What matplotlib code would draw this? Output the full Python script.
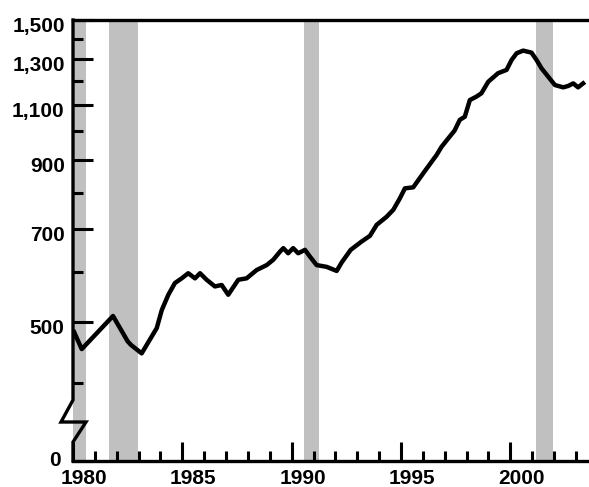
import matplotlib
matplotlib.use("Agg")
import matplotlib.pyplot as plt
import matplotlib.transforms as mtransforms
import numpy as np

# ---- Data ------------------------------------------------------------------
years = [
    1980.05, 1980.40, 1981.83, 1982.50, 1982.65, 1983.14, 1983.83, 1984.06,
    1984.36, 1984.66, 1984.97, 1985.27, 1985.58, 1985.81, 1986.11, 1986.49,
    1986.80, 1987.10, 1987.25, 1987.56, 1987.94, 1988.40, 1988.86, 1989.16,
    1989.47, 1989.62, 1989.84, 1990.07, 1990.30, 1990.61, 1990.84, 1991.14,
    1991.60, 1992.06, 1992.29, 1992.70, 1993.20, 1993.58, 1993.89, 1994.34,
    1994.65, 1994.95, 1995.18, 1995.56, 1996.02, 1996.63, 1996.85, 1997.09,
    1997.45, 1997.69, 1997.92, 1998.15, 1998.45, 1998.68, 1998.99, 1999.44,
    1999.83, 2000.06, 2000.29, 2000.59, 2000.97, 2001.20, 2001.43, 2001.73,
    2002.04, 2002.42, 2002.65, 2002.88, 2003.10, 2003.33,
]
values = [
    482, 453, 511, 466, 460, 446, 489, 522,
    552, 576, 586, 597, 586, 597, 583, 569,
    572, 552, 562, 583, 586, 604, 615, 627,
    646, 654, 642, 654, 642, 650, 634, 615,
    611, 602, 621, 650, 670, 684, 712, 733,
    752, 784, 813, 816, 859, 918, 945, 968,
    1003, 1043, 1055, 1121, 1135, 1149, 1198, 1236,
    1251, 1297, 1329, 1342, 1332, 1297, 1258, 1221,
    1184, 1174, 1180, 1191, 1174, 1191,
]

# recession bands (start, end) in decimal years
recessions = [(1980.0, 1980.58), (1981.65, 1982.97), (1990.56, 1991.25), (2001.17, 2001.95)]

y_major = [500, 700, 900, 1100, 1300, 1500]
y_major_labels = ["500", "700", "900", "1,100", "1,300", "1,500"]
y_minor = [400, 600, 800, 1000, 1200, 1400]
x_label_years = [1980, 1985, 1990, 1995, 2000]

Y_BOTTOM = 301.5   # value sitting on the broken axis baseline, labelled "0"
Y_TOP = 1500
X_LEFT, X_RIGHT = 1980.0, 2003.6
FS = 15

plt.rcParams["font.family"] = ["Liberation Sans", "DejaVu Sans"]
plt.rcParams["font.weight"] = "bold"

fig = plt.figure(figsize=(5.89, 4.87), dpi=100)
ax = fig.add_axes([73 / 589, 26 / 487, 516 / 589, 441 / 487])

for a, b in recessions:
    ax.axvspan(a, b, color="#c0c0c0", lw=0, zorder=1)

ax.plot(years, values, color="black", lw=3.2, solid_joinstyle="round", zorder=3)

ax.set_yscale("log")
ax.set_ylim(Y_BOTTOM, Y_TOP)
ax.set_xlim(X_LEFT, X_RIGHT)

# ---- y axis ----------------------------------------------------------------
ax.yaxis.set_major_locator(matplotlib.ticker.FixedLocator([Y_BOTTOM] + y_major))
ax.yaxis.set_major_formatter(matplotlib.ticker.FixedFormatter(["0"] + y_major_labels))
ax.yaxis.set_minor_locator(matplotlib.ticker.FixedLocator(y_minor))
ax.yaxis.set_minor_formatter(matplotlib.ticker.NullFormatter())
ax.tick_params(axis="y", which="major", direction="in", length=14.4, width=2.2,
               pad=6, labelsize=FS)
ax.tick_params(axis="y", which="minor", direction="in", length=7.2, width=2.2)
down = mtransforms.ScaledTranslation(0, -3 / 72, fig.dpi_scale_trans)
up = mtransforms.ScaledTranslation(-3 / 72, 2 / 72, fig.dpi_scale_trans)
for i, lbl in enumerate(ax.get_yticklabels()):
    lbl.set_transform(lbl.get_transform() + (up if i == 0 else down))
    lbl.set_fontweight("bold")

# ---- x axis ----------------------------------------------------------------
ax.set_xticks(np.arange(1980, 2001, 5))
ax.set_xticks(np.arange(1981, 2004), minor=True)
ax.set_xticklabels([])
ax.tick_params(axis="x", which="major", direction="in", length=13.7, width=2.2)
ax.tick_params(axis="x", which="minor", direction="in", length=7.2, width=2.2)
for yr in x_label_years:
    ax.annotate(str(yr), xy=(yr + 0.5, 0), xycoords=ax.get_xaxis_transform(),
                xytext=(0, -6), textcoords="offset points", ha="center",
                va="top", fontsize=FS, fontweight="bold")

# ---- spines, left one drawn by hand with a break --------------------------
ax.spines["right"].set_visible(False)
ax.spines["left"].set_visible(False)
ax.spines["top"].set_linewidth(2.4)
ax.spines["bottom"].set_linewidth(2.4)
dx_l, dx_r = -12 / 516, 13 / 516
ax.plot([0, 0, dx_l, dx_r, 0, 0],
        [1, 0.1383, 0.0884, 0.0884, 0.0431, 0],
        transform=ax.transAxes, color="black", lw=2.4, clip_on=False,
        solid_joinstyle="miter", zorder=5)

fig.savefig("out.png", dpi=100)
